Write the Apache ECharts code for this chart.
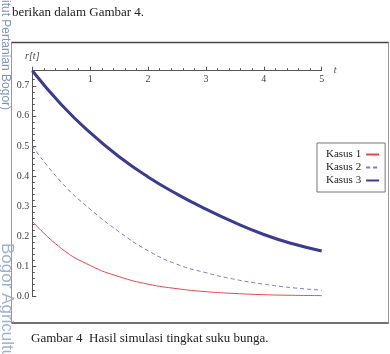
<!DOCTYPE html>
<html>
<head>
<meta charset="utf-8">
<script src="https://cdn.jsdelivr.net/npm/echarts@6/dist/echarts.min.js"></script>
<style>
  html, body { margin: 0; padding: 0; background: #fff; }
  #chart { width: 390px; height: 354px; }
</style>
</head>
<body>
<div id="chart"></div>
<script>
// values (r[t] at t = 0, 0.5, ..., 5)
var tValues = [0, 0.5, 1, 1.5, 2, 2.5, 3, 3.5, 4, 4.5, 5];
var kasus1 = [0.25, 0.160, 0.103, 0.066, 0.041, 0.026, 0.016, 0.010, 0.006, 0.004, 0.003];
var kasus2 = [0.50, 0.380, 0.290, 0.215, 0.152, 0.107, 0.079, 0.057, 0.041, 0.029, 0.021];
var kasus3 = [0.75, 0.638, 0.544, 0.464, 0.397, 0.340, 0.290, 0.245, 0.206, 0.175, 0.151];
var seriesNames = ['Kasus 1', 'Kasus 2', 'Kasus 3'];

var serif = '"Liberation Serif", "DejaVu Serif", serif';

function pairs(vals) {
  return tValues.map(function (t, i) { return [t, vals[i]]; });
}

var option = {
  animation: false,
  backgroundColor: '#fff',
  grid: { left: 32.3, top: 70.7, right: 68.3, bottom: 57.5 },
  legend: {
    orient: 'vertical',
    left: 317,
    top: 143,
    align: 'right',
    itemWidth: 13,
    itemHeight: 10,
    itemGap: 2,
    padding: [6, 5, 6, 9],
    backgroundColor: '#fff',
    borderColor: '#777',
    borderWidth: 1,
    itemStyle: { opacity: 0 },
    textStyle: { fontFamily: serif, fontSize: 11, color: '#222' },
    data: seriesNames
  },
  xAxis: {
    type: 'value',
    position: 'top',
    min: 0,
    max: 5,
    interval: 1,
    name: 't',
    nameLocation: 'end',
    nameGap: 12,
    nameTextStyle: { fontFamily: serif, fontStyle: 'italic', fontSize: 10, color: '#444' },
    axisLine: { onZero: false, lineStyle: { color: '#555', width: 1 } },
    axisTick: { show: true, inside: false, length: 4, lineStyle: { color: '#555' } },
    minorTick: { show: true, splitNumber: 5, length: 2.5, lineStyle: { color: '#555' } },
    axisLabel: {
      inside: true,
      margin: 4,
      fontFamily: serif,
      fontSize: 10,
      color: '#444',
      formatter: function (v) { return v === 0 ? '' : String(v); }
    },
    splitLine: { show: false }
  },
  yAxis: {
    type: 'value',
    min: 0,
    max: 0.75,
    interval: 0.1,
    name: 'r[t]',
    nameLocation: 'end',
    nameGap: 9,
    nameTextStyle: { fontFamily: serif, fontStyle: 'italic', fontSize: 10, color: '#444' },
    axisLine: { show: true, onZero: false, lineStyle: { color: '#555', width: 1 } },
    axisTick: { show: true, inside: true, length: 4, lineStyle: { color: '#555' } },
    minorTick: { show: true, splitNumber: 5, length: 2.5, lineStyle: { color: '#555' } },
    axisLabel: {
      margin: 3,
      fontFamily: serif,
      fontSize: 10,
      color: '#444',
      formatter: function (v) {
        return Math.abs(v * 10 - Math.round(v * 10)) < 1e-6 ? v.toFixed(1) : '';
      }
    },
    splitLine: { show: false }
  },
  graphic: [
    { type: 'text', left: 12, top: 6,
      style: { text: 'berikan dalam Gambar 4.', font: '13px "Liberation Serif"', fill: '#222' } },
    { type: 'text', left: 31, top: 332,
      style: { text: 'Gambar 4  Hasil simulasi tingkat suku bunga.', font: '13px "Liberation Serif"', fill: '#222' } },
    { type: 'rect', shape: { x: 11.5, y: 42.5, width: 377, height: 280.5 },
      style: { fill: null, stroke: '#999', lineWidth: 1 } },
    { type: 'line', shape: { x1: 11.5, y1: 42.5, x2: 388.5, y2: 42.5 },
      style: { stroke: '#444', lineWidth: 1.3 } },
    { type: 'line', shape: { x1: 11.5, y1: 323, x2: 388.5, y2: 323 },
      style: { stroke: '#555', lineWidth: 1.3 } },
    { type: 'text', x: 11, y: 0, rotation: -Math.PI / 2,
      style: { text: 'itut Pertanian Bogor)', font: '12px "Liberation Sans"', fill: '#8193b8' } },
    { type: 'text', x: 15, y: 243, rotation: -Math.PI / 2,
      style: { text: 'Bogor Agricultu', font: '17px "Liberation Sans"', fill: '#a3b0cc' } }
  ],
  series: [
    {
      name: 'Kasus 1', type: 'line', data: pairs(kasus1),
      symbol: 'none', smooth: true,
      lineStyle: { color: '#e64848', width: 1 }, itemStyle: { color: '#e64848' }
    },
    {
      name: 'Kasus 2', type: 'line', data: pairs(kasus2),
      symbol: 'none', smooth: true,
      lineStyle: { color: '#7b7bc0', width: 1, type: [4, 3] }, itemStyle: { color: '#7b7bc0' }
    },
    {
      name: 'Kasus 3', type: 'line', data: pairs(kasus3),
      symbol: 'none', smooth: true,
      lineStyle: { color: '#3c3c8e', width: 3 }, itemStyle: { color: '#3c3c8e' }
    }
  ]
};

var myChart = echarts.init(document.getElementById('chart'));
myChart.setOption(option, true);
</script>
</body>
</html>
